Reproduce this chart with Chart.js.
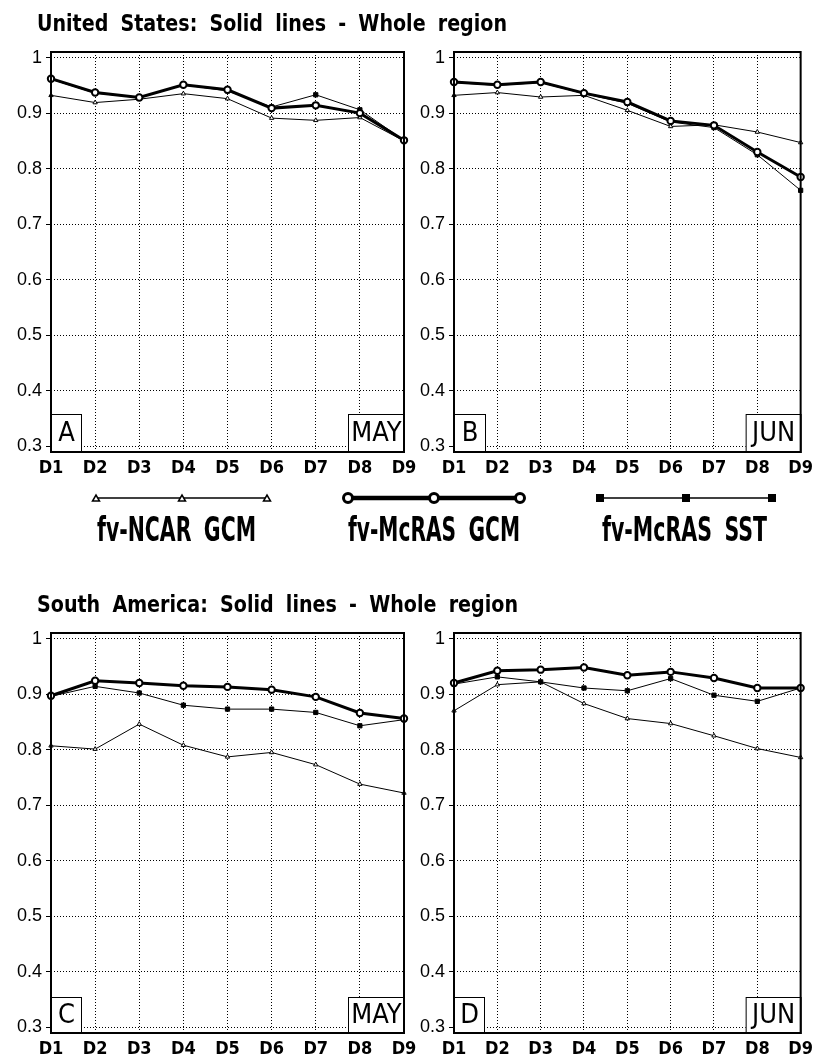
<!DOCTYPE html>
<html><head><meta charset="utf-8">
<script src="https://cdn.jsdelivr.net/npm/chart.js@4/dist/chart.umd.min.js"></script>
<style>
html,body{margin:0;padding:0;background:#fff;}
body{width:819px;height:1061px;position:relative;overflow:hidden;}
canvas{position:absolute;left:0;top:0;}
svg{position:absolute;left:0;top:0;}
.t{position:absolute;white-space:pre;font-family:'Liberation Sans Narrow','DejaVu Sans Condensed',sans-serif;font-weight:bold;color:#000;transform-origin:0 0;line-height:1;}
</style></head><body>
<canvas id="cA" width="819" height="1061"></canvas>
<canvas id="cB" width="819" height="1061"></canvas>
<canvas id="cC" width="819" height="1061"></canvas>
<canvas id="cD" width="819" height="1061"></canvas>
<div class="t" id="title1" style="font-size:23px;top:11.5px;left:37px;word-spacing:6px">United States: Solid lines - Whole region</div>
<div class="t" id="title2" style="font-size:23px;top:592.5px;left:37px;word-spacing:6px">South America: Solid lines - Whole region</div>
<div class="t" id="leg1" style="font-size:34px;top:511.5px;left:97px;word-spacing:8px">fv-NCAR GCM</div>
<div class="t" id="leg2" style="font-size:34px;top:511.5px;left:348px;word-spacing:8px">fv-McRAS GCM</div>
<div class="t" id="leg3" style="font-size:34px;top:511.5px;left:602px;word-spacing:8px">fv-McRAS SST</div>
<svg width="819" height="1061">
  <line x1="96" y1="498" x2="267" y2="498" stroke="#000" stroke-width="1.5"/>
  <polygon points="92.5,501 99.5,501 96,495" fill="#fff" stroke="#000" stroke-width="1.5"/>
  <polygon points="178.5,501 185.5,501 182,495" fill="#fff" stroke="#000" stroke-width="1.5"/>
  <polygon points="263.5,501 270.5,501 267,495" fill="#fff" stroke="#000" stroke-width="1.5"/>
  <line x1="348" y1="498" x2="520" y2="498" stroke="#000" stroke-width="4.5"/>
  <circle cx="348" cy="498" r="4.5" fill="#fff" stroke="#000" stroke-width="3"/>
  <circle cx="434" cy="498" r="4.5" fill="#fff" stroke="#000" stroke-width="3"/>
  <circle cx="520" cy="498" r="4.5" fill="#fff" stroke="#000" stroke-width="3"/>
  <line x1="600" y1="498" x2="772" y2="498" stroke="#000" stroke-width="1.5"/>
  <rect x="596" y="494" width="8" height="8" fill="#000"/>
  <rect x="682" y="494" width="8" height="8" fill="#000"/>
  <rect x="768" y="494" width="8" height="8" fill="#000"/>
</svg>
<script>
// ---- data ----
const categories = ['D1','D2','D3','D4','D5','D6','D7','D8','D9'];
const yTicks = [0.3,0.4,0.5,0.6,0.7,0.8,0.9,1];
const yTickLabels = ['0.3','0.4','0.5','0.6','0.7','0.8','0.9','1'];
const seriesNames = ['fv-NCAR GCM','fv-McRAS GCM','fv-McRAS SST'];

const usMayNcar = [0.932,0.919,0.925,0.935,0.926,0.891,0.887,0.892,0.850];
const usMayGcm  = [0.962,0.937,0.928,0.951,0.942,0.909,0.914,0.900,0.851];
const usMaySst  = [0.961,0.936,0.928,0.951,0.940,0.911,0.933,0.906,0.851];

const usJunNcar = [0.932,0.937,0.929,0.932,0.905,0.876,0.879,0.866,0.847];
const usJunGcm  = [0.956,0.951,0.956,0.936,0.920,0.886,0.878,0.830,0.785];
const usJunSst  = [0.955,0.950,0.955,0.935,0.918,0.884,0.874,0.825,0.761];

const saMayNcar = [0.807,0.801,0.846,0.808,0.787,0.795,0.773,0.738,0.722];
const saMayGcm  = [0.897,0.924,0.920,0.915,0.913,0.908,0.895,0.866,0.856];
const saMaySst  = [0.896,0.914,0.902,0.880,0.873,0.873,0.867,0.843,0.854];

const saJunNcar = [0.870,0.917,0.922,0.883,0.856,0.847,0.825,0.802,0.786];
const saJunGcm  = [0.920,0.942,0.944,0.948,0.934,0.940,0.929,0.911,0.911];
const saJunSst  = [0.918,0.931,0.922,0.911,0.906,0.928,0.898,0.887,0.911];

// ---- layout ----
const W = 819, H = 1061, YW = 50, XH = 30;
const panels = [
  {id:'cA', area:[51,52,404,452], data:[usMayNcar,usMayGcm,usMaySst], letter:'A', month:'MAY', lbox:30, mbox:56, bh:38},
  {id:'cB', area:[454,52,807,452], data:[usJunNcar,usJunGcm,usJunSst], letter:'B', month:'JUN', lbox:31, mbox:55, bh:38},
  {id:'cC', area:[51,633,404,1033], data:[saMayNcar,saMayGcm,saMaySst], letter:'C', month:'MAY', lbox:30, mbox:56, bh:36},
  {id:'cD', area:[454,633,807,1033], data:[saJunNcar,saJunGcm,saJunSst], letter:'D', month:'JUN', lbox:30, mbox:55, bh:36}
];

const narrow = "'Liberation Sans Narrow','DejaVu Sans Condensed',sans-serif";

const decor = {
  id:'decor',
  afterDraw(chart, args, opts){
    const ctx = chart.ctx, a = chart.chartArea;
    ctx.save();
    ctx.font = "27px " + narrow;
    ctx.textAlign = 'center'; ctx.textBaseline = 'middle';
    // letter box
    ctx.fillStyle = '#fff'; ctx.strokeStyle = '#000'; ctx.lineWidth = 1;
    ctx.fillRect(a.left, a.bottom - opts.bh, opts.lbox, opts.bh);
    ctx.strokeRect(a.left + 0.5, a.bottom - opts.bh + 0.5, opts.lbox, opts.bh);
    ctx.fillRect(a.right - opts.mbox, a.bottom - opts.bh, opts.mbox, opts.bh);
    ctx.strokeRect(a.right - opts.mbox + 0.5, a.bottom - opts.bh + 0.5, opts.mbox, opts.bh);
    ctx.fillStyle = '#000';
    ctx.fillText(opts.letter, a.left + opts.lbox/2 + 0.5, a.bottom - opts.bh/2 + 1);
    ctx.fillText(opts.month, a.right - opts.mbox/2 + 0.5, a.bottom - opts.bh/2 + 1);
    // frame
    ctx.lineWidth = 2;
    ctx.strokeRect(a.left, a.top, a.right - a.left, a.bottom - a.top);
    ctx.restore();
  }
};

panels.forEach(p => {
  const [l,t,r,b] = p.area;
  const styles = [
    {borderWidth:1, pointStyle:'triangle', pointRadius:2.5, pointBorderWidth:1, pointBackgroundColor:'#fff', order:2},
    {borderWidth:3, pointStyle:'circle', pointRadius:3.2, pointBorderWidth:2, pointBackgroundColor:'#fff', order:0},
    {borderWidth:1, pointStyle:'rect', pointRadius:3, pointBorderWidth:1, pointBackgroundColor:'#000', order:1}
  ];
  new Chart(document.getElementById(p.id), {
    type:'line',
    data:{
      labels: categories,
      datasets: p.data.map((d,i) => Object.assign({
        label: seriesNames[i], data: d, borderColor:'#000', pointBorderColor:'#000',
        tension:0, clip:false, fill:false
      }, styles[i]))
    },
    options:{
      responsive:false, animation:false, devicePixelRatio:1,
      layout:{padding:{left:l-YW, top:t, right:W-r, bottom:H-b-XH}},
      plugins:{legend:{display:false}, tooltip:{enabled:false},
        decor:{letter:p.letter, month:p.month, lbox:p.lbox, mbox:p.mbox, bh:p.bh}},
      scales:{
        x:{type:'category', offset:false,
           grid:{color:'#000', lineWidth:1, drawTicks:false, offset:false},
           border:{display:false, dash:[1,2]},
           ticks:{color:'#000', font:{family:narrow, size:18, weight:'bold'}, padding:6, maxRotation:0, autoSkip:false},
           afterFit:s => { s.height = XH; }},
        y:{type:'linear', min:0.29, max:1.01,
           grid:{color:'#000', lineWidth:1, tickLength:5, tickColor:'#000', tickWidth:1, tickBorderDash:[]},
           border:{display:false, dash:[1,2]},
           afterBuildTicks:s => { s.ticks = yTicks.map(v => ({value:v})); },
           ticks:{color:'#000', font:{family:"'Liberation Sans',Arial,sans-serif", size:18}, padding:4,
                  callback:v => yTickLabels[yTicks.indexOf(v)]},
           afterFit:s => { s.width = YW; }}
      }
    },
    plugins:[decor]
  });
});

// fit text widths
function fit(id, width){
  const el = document.getElementById(id);
  const w = el.getBoundingClientRect().width;
  el.style.transform = 'scaleX(' + (width / w) + ')';
}
fit('title1', 470);
fit('title2', 481);
fit('leg1', 159);
fit('leg2', 172);
fit('leg3', 165);
</script>
</body></html>
